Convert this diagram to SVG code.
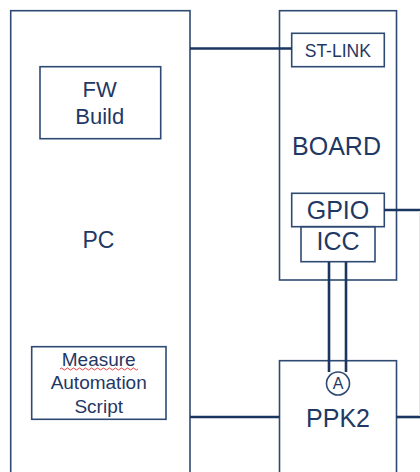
<svg xmlns="http://www.w3.org/2000/svg" width="420" height="472" viewBox="0 0 420 472">
<style>
.box{fill:#fff;stroke:#2f4a72;stroke-width:1.6}
.sub{fill:none;stroke:#2f4a72;stroke-width:1.6}
.t{font-family:"Liberation Sans",Arial,sans-serif;fill:#1f3864;text-anchor:middle}
.c{fill:none;stroke:#1a3560;stroke-width:2.6}
</style>
<rect width="420" height="472" fill="#fff"/>
<g id="pc">
<rect class="box" x="10.7" y="10.7" width="179.3" height="480"/>
<text class="t" x="98.5" y="247.5" font-size="23">PC</text>
</g>
<g id="fw-build">
<rect class="sub" x="40" y="66.7" width="120.7" height="72"/>
<text class="t" x="99.7" y="96.7" font-size="22">FW</text>
<text class="t" x="99.7" y="124" font-size="22">Build</text>
</g>
<g id="measure-script">
<rect class="sub" x="31.7" y="346.7" width="134.3" height="72.6"/>
<text class="t" x="98.7" y="365.5" font-size="19">Measure</text>
<path d="M60 369 q1.5 -2 3 0 t3 0 t3 0 t3 0 t3 0 t3 0 t3 0 t3 0 t3 0 t3 0 t3 0 t3 0 t3 0 t3 0 t3 0 t3 0 t3 0 t3 0 t3 0 t3 0 t3 0 t3 0 t3 0 t3 0 t3 0 t3 0" fill="none" stroke="#e03030" stroke-width="0.9"/>
<text class="t" x="98.7" y="389.3" font-size="19">Automation</text>
<text class="t" x="98.7" y="412.7" font-size="19">Script</text>
</g>
<g id="board">
<rect class="box" x="279.5" y="10.7" width="117" height="269.3"/>
<text class="t" x="336.5" y="155" font-size="25">BOARD</text>
</g>
<g id="st-link">
<rect class="sub" x="291.7" y="33.3" width="92.6" height="33.4"/>
<text class="t" x="337.8" y="56.7" font-size="17.5">ST-LINK</text>
</g>
<g id="gpio">
<rect class="sub" x="291.7" y="193.3" width="92.6" height="33.4"/>
<text class="t" x="338" y="219.3" font-size="25">GPIO</text>
</g>
<g id="icc">
<rect class="sub" x="301" y="226.7" width="74" height="35"/>
<text class="t" x="338" y="250" font-size="25">ICC</text>
</g>
<g id="ppk2">
<rect class="box" x="279.5" y="360.7" width="117" height="130"/>
<circle cx="338" cy="383.5" r="11.5" fill="#fff" stroke="#2f4a72" stroke-width="1.6"/>
<text class="t" x="338" y="389.3" font-size="16">A</text>
<text class="t" x="338" y="426.7" font-size="25">PPK2</text>
</g>
<g id="connectors">
<line class="c" x1="190" y1="48.5" x2="292" y2="48.5"/>
<line class="c" x1="384" y1="210" x2="420" y2="210"/>
<line class="c" x1="190" y1="417" x2="279.5" y2="417"/>
<line class="c" x1="396.5" y1="417" x2="420" y2="417"/>
<line class="c" x1="329" y1="262" x2="329" y2="372"/>
<line class="c" x1="346" y1="262" x2="346" y2="372"/>
<line x1="419.5" y1="211" x2="419.5" y2="416" stroke="#e6e6e6" stroke-width="1"/>
</g>
</svg>
